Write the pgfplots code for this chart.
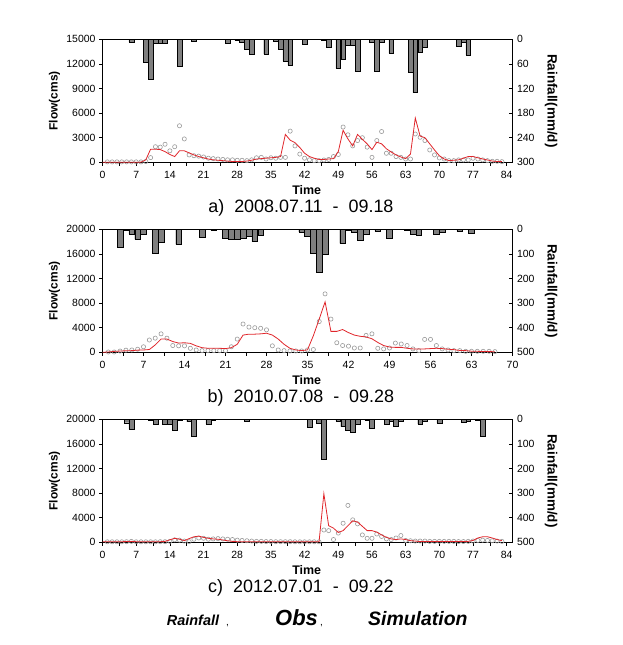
\documentclass[border=0pt]{standalone}
\usepackage{fontspec}
\setmainfont{Liberation Sans}
\usepackage{pgfplots}
\pgfplotsset{compat=1.18}
\definecolor{barfill}{HTML}{7F7F7F}
\definecolor{simred}{HTML}{E0262B}
\definecolor{obsgray}{HTML}{9A9A9A}
\pgfplotsset{
  base/.style={
    scale only axis, width=410bp, height=123bp, anchor=south west,
    enlargelimits=false, xmin=0, clip mode=individual,
    scaled y ticks=false, scaled x ticks=false,
    axis line style={line width=0.7bp},
    tick style={black, line width=0.6bp},
    major tick length=3.5bp, minor tick length=3.5bp,
    /pgf/number format/assume math mode=true,
    /pgf/number format/1000 sep={},
    tick label style={font=\fontsize{10.5}{12}\selectfont},
  },
  flowax/.style={base,
    xtick distance=7, minor x tick num=1,
    xtick pos=bottom, ytick pos=left,
    xtick align=outside, ytick align=outside,
    xticklabel style={yshift=-1.5bp},
    ylabel={Flow(cms)}, xlabel={Time},
    ylabel style={font=\fontsize{12}{14}\selectfont\bfseries, at={(axis description cs:-0.117,0.5)}, anchor=center, rotate=0},
    xlabel style={font=\fontsize{12.5}{14}\selectfont\bfseries, at={(axis description cs:0.498,-0.228)}, anchor=center},
  },
  rainax/.style={base,
    axis x line=none, axis y line*=right, y dir=reverse,
    ytick align=inside, ymin=0,
    yticklabel style={xshift=1bp},
    ylabel={Rainfall(mm/d)},
    ylabel style={font=\fontsize{13.5}{15}\selectfont\bfseries, at={(axis description cs:1.094,0.5)}, anchor=center, rotate=180},
  },
  rainbar/.style={ybar, bar shift=0pt, fill=barfill, draw=black, line width=0.4bp},
  obsmark/.style={only marks, mark=o, mark size=2.1bp, mark options={draw=obsgray, line width=0.6bp}},
  simline/.style={no marks, draw=simred, line width=0.8bp},
}
\begin{document}
\begin{tikzpicture}
\path[use as bounding box] (0,0) rectangle (623bp,645bp);
% ================= Panel a =================
\begin{axis}[rainax, at={(102.5bp,482.7bp)}, xmax=85.2, ymax=300, ytick={0,60,...,300}]
\addplot[rainbar, bar width=4.8bp] coordinates {(6,6)(9,55)(10,98)(11,10)(12,10)(13,10)(16,65)(19,5)(26,10)(28,3)(29,6)(30,24)(31,36)(34,36)(36,5)(37,24)(38,53)(39,63)(42,12)(46,3)(47,20)(49,71)(50,48)(51,14)(52,14)(53,78)(56,7)(57,78)(58,7)(60,34)(64,81)(65,130)(66,32)(67,20)(74,16)(75,7)(76,38)};
\end{axis}
\begin{axis}[flowax, at={(102.5bp,482.7bp)}, xmax=85.2, ymin=0, ymax=15000, ytick={0,3000,...,15000}]
\addplot[obsmark] coordinates {(1,50)(2,50)(3,50)(4,50)(5,50)(6,50)(7,50)(8,50)(9,100)(10,570)(11,1900)(12,1850)(13,2200)(14,1400)(15,1900)(16,4450)(17,2850)(18,900)(19,800)(20,750)(21,650)(22,500)(23,450)(24,400)(25,350)(26,300)(27,300)(28,250)(29,250)(30,200)(31,300)(32,550)(33,600)(34,400)(35,550)(36,500)(37,600)(38,600)(39,3800)(40,2000)(41,1000)(42,500)(43,300)(44,200)(45,200)(46,280)(47,350)(48,700)(49,950)(50,4300)(51,3350)(52,2000)(53,2650)(54,3000)(55,1850)(56,600)(57,2650)(58,3750)(59,1100)(60,1100)(61,700)(62,600)(63,400)(64,400)(65,3450)(66,3050)(67,2650)(68,1500)(69,900)(70,530)(71,400)(72,200)(73,200)(74,290)(75,290)(76,290)(77,490)(78,400)(79,290)(80,200)(81,120)(82,120)(83,80)};
\addplot[simline] coordinates {(0,0)(1,0)(2,0)(3,0)(4,0)(5,0)(6,0)(7,0)(8,20)(9,300)(10,1600)(11,1600)(12,1550)(13,1300)(14,950)(15,700)(16,1400)(17,1400)(18,1150)(19,900)(20,700)(21,550)(22,400)(23,300)(24,250)(25,200)(26,150)(27,100)(28,100)(29,100)(30,150)(31,250)(32,400)(33,450)(34,500)(35,550)(36,600)(37,700)(38,3400)(39,2700)(40,2400)(41,1800)(42,1100)(43,700)(44,500)(45,350)(46,350)(47,400)(48,450)(49,1300)(50,3900)(51,2850)(52,2000)(53,3400)(54,2800)(55,2250)(56,1550)(57,2450)(58,2250)(59,1650)(60,1250)(61,900)(62,650)(63,450)(64,1000)(65,5400)(66,3200)(67,3000)(68,2250)(69,1500)(70,800)(71,400)(72,200)(73,250)(74,300)(75,500)(76,700)(77,700)(78,550)(79,400)(80,280)(81,150)(82,100)(83,80)};
\node[font=\fontsize{18}{20}\selectfont, anchor=center] at (axis description cs:0.484,-0.374) {a)\ \ 2008.07.11\ \ -\ \ 09.18};
\end{axis}
% ================= Panel b =================
\begin{axis}[rainax, at={(102.5bp,292.7bp)}, xmax=70, ymax=500, ytick={0,100,...,500}]
\addplot[rainbar, bar width=5.8bp] coordinates {(3,73)(4,5)(5,20)(6,41)(7,20)(9,98)(10,53)(13,61)(17,33)(19,5)(21,37)(22,41)(23,41)(24,37)(25,27)(26,50)(27,23)(34,10)(35,30)(36,98)(37,175)(38,100)(41,57)(42,3)(43,10)(44,43)(45,20)(47,7)(49,37)(52,3)(53,20)(54,23)(57,20)(58,12)(61,7)(63,16)};
\end{axis}
\begin{axis}[flowax, at={(102.5bp,292.7bp)}, xmax=70, ymin=0, ymax=20000, ytick={0,4000,...,20000}]
\addplot[obsmark] coordinates {(1,50)(2,50)(3,200)(4,350)(5,380)(6,500)(7,900)(8,2000)(9,2300)(10,3000)(11,2300)(12,1100)(13,1050)(14,1050)(15,650)(16,380)(17,270)(18,270)(19,270)(20,270)(21,270)(22,900)(23,2150)(24,4600)(25,4100)(26,4000)(27,3900)(28,3650)(29,1050)(30,380)(31,270)(32,220)(33,220)(34,220)(35,380)(36,450)(37,5000)(38,9500)(39,5400)(40,1550)(41,1100)(42,1000)(43,700)(44,700)(45,2750)(46,3000)(47,650)(48,550)(49,700)(50,1500)(51,1350)(52,1100)(53,550)(54,270)(55,2100)(56,2100)(57,1100)(58,550)(59,380)(60,270)(61,270)(62,160)(63,160)(64,160)(65,160)(66,160)(67,110)};
\addplot[simline] coordinates {(0,0)(1,50)(2,150)(3,200)(4,250)(5,270)(6,350)(7,380)(8,450)(9,1200)(10,2150)(11,2150)(12,1750)(13,1500)(14,1550)(15,1450)(16,1050)(17,750)(18,650)(19,650)(20,650)(21,600)(22,750)(23,1300)(24,2800)(25,2950)(26,2950)(27,3000)(28,3100)(29,2800)(30,2150)(31,1300)(32,650)(33,380)(34,270)(35,400)(36,2700)(37,5400)(38,8200)(39,3400)(40,3400)(41,3700)(42,3200)(43,2800)(44,2600)(45,2500)(46,2200)(47,1600)(48,1100)(49,850)(50,800)(51,800)(52,650)(53,550)(54,550)(55,550)(56,600)(57,650)(58,600)(59,500)(60,430)(61,300)(62,270)(63,180)(64,160)(65,120)(66,110)(67,100)};
\node[font=\fontsize{18}{20}\selectfont, anchor=center] at (axis description cs:0.484,-0.372) {b)\ \ 2010.07.08\ \ -\ \ 09.28};
\end{axis}
% ================= Panel c =================
\begin{axis}[rainax, at={(102.5bp,102.7bp)}, xmax=85.2, ymax=500, ytick={0,100,...,500}]
\addplot[rainbar, bar width=4.8bp] coordinates {(5,14)(6,41)(10,5)(11,20)(13,20)(14,20)(15,46)(16,5)(18,9)(19,70)(22,20)(23,5)(30,9)(43,33)(45,16)(46,163)(49,7)(50,30)(51,43)(52,54)(53,19)(55,5)(56,37)(59,20)(60,9)(61,27)(62,7)(66,20)(67,9)(70,16)(75,12)(76,7)(78,3)(79,68)};
\end{axis}
\begin{axis}[flowax, at={(102.5bp,102.7bp)}, xmax=85.2, ymin=0, ymax=20000, ytick={0,4000,...,20000}]
\addplot[obsmark] coordinates {(1,80)(2,80)(3,80)(4,80)(5,100)(6,150)(7,80)(8,80)(9,80)(10,80)(11,80)(12,100)(13,100)(14,150)(15,400)(16,350)(17,200)(18,100)(19,500)(20,700)(21,650)(22,500)(23,550)(24,600)(25,550)(26,500)(27,450)(28,350)(29,300)(30,250)(31,200)(32,150)(33,150)(34,120)(35,120)(36,100)(37,100)(38,100)(39,100)(40,80)(41,80)(42,80)(43,80)(44,80)(45,80)(46,2000)(47,1900)(48,450)(49,1500)(50,3100)(51,6000)(52,3650)(53,3000)(54,1200)(55,650)(56,650)(57,1350)(58,950)(59,550)(60,450)(61,700)(62,1100)(63,300)(64,250)(65,200)(66,200)(67,200)(68,150)(69,150)(70,150)(71,150)(72,150)(73,150)(74,120)(75,120)(76,150)(77,200)(78,300)(79,350)(80,300)(81,250)(82,200)(83,150)};
\addplot[simline] coordinates {(0,100)(1,100)(2,100)(3,100)(4,100)(5,120)(6,150)(7,100)(8,100)(9,100)(10,100)(11,100)(12,100)(13,150)(14,400)(15,650)(16,500)(17,270)(18,600)(19,900)(20,1000)(21,800)(22,650)(23,550)(24,500)(25,380)(26,250)(27,150)(28,100)(29,80)(30,80)(31,80)(32,80)(33,80)(34,80)(35,80)(36,80)(37,80)(38,80)(39,80)(40,80)(41,80)(42,80)(43,80)(44,80)(45,80)(46,7900)(47,2700)(48,2300)(49,1600)(50,1900)(51,2700)(52,3500)(53,3300)(54,2600)(55,1900)(56,1900)(57,1650)(58,1200)(59,800)(60,550)(61,450)(62,550)(63,450)(64,270)(65,200)(66,120)(67,120)(68,120)(69,120)(70,120)(71,120)(72,120)(73,120)(74,120)(75,120)(76,150)(77,300)(78,700)(79,900)(80,900)(81,700)(82,450)(83,270)};
\node[font=\fontsize{18}{20}\selectfont, anchor=center] at (axis description cs:0.484,-0.372) {c)\ \ 2012.07.01\ \ -\ \ 09.22};
\end{axis}
% ================= Legend text =================
\node[anchor=base west, inner sep=0pt, font=\fontsize{14.5}{16}\selectfont\bfseries\itshape] at (166.7bp,20bp) {Rainfall};
\node[anchor=base west, inner sep=0pt, font=\fontsize{10}{12}\selectfont] at (226bp,20bp) {,};
\node[anchor=base west, inner sep=0pt, font=\fontsize{22}{24}\selectfont\bfseries\itshape] at (275bp,20bp) {Obs};
\node[anchor=base west, inner sep=0pt, font=\fontsize{10}{12}\selectfont] at (320bp,20bp) {,};
\node[anchor=base west, inner sep=0pt, font=\fontsize{19.5}{21}\selectfont\bfseries\itshape] at (368bp,20bp) {Simulation};
\end{tikzpicture}
\end{document}
